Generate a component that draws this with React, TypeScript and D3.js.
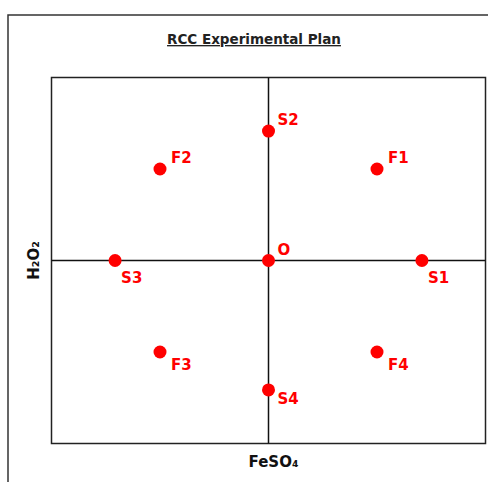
import React from 'react';
import { scaleLinear } from 'd3';

// design points (coded units): factorial at ±1, star points at ±alpha
const pointLabels = ['F1', 'F2', 'F3', 'F4', 'S1', 'S2', 'S3', 'S4', 'O'];
const feso4Level = [1, -1, -1, 1, 1.414, 0, -1.414, 0, 0];
const h2o2Level = [1, 1, -1, -1, 0, 1.414, 0, -1.414, 0];
const labelSide = ['ne', 'ne', 'se', 'se', 's', 'n', 's', 'e', 'n'];

const titleText = 'RCC Experimental Plan';
const xTitle = 'FeSO₄';
const yTitle = 'H₂O₂';
const domain = [-2, 2];

const W = 488;
const H = 482;
const font = '"DejaVu Sans", Verdana, sans-serif';

const offsets: Record<string, [number, number]> = {
  ne: [11, -6],
  n: [9, -6],
  se: [11, 18],
  e: [9, 14],
  s: [6, 22],
};

export default function App() {
  const margin = { top: 77.5, right: 2.5, bottom: 38.5, left: 51.5 };

  const x = scaleLinear().domain(domain).range([margin.left, W - margin.right]);
  const y = scaleLinear().domain(domain).range([H - margin.bottom, margin.top]);

  const x0 = x(0);
  const y0 = y(0);

  return (
    <svg
      width={W}
      height={H}
      style={{ position: 'absolute', left: 0, top: 0, background: '#fff' }}
    >
      {/* outer frame, runs off the right/bottom edge */}
      <rect x={8} y={15} width={W} height={H} fill="none" stroke="#333" strokeWidth={1.5} />

      <text
        x={254}
        y={44}
        textAnchor="middle"
        fontFamily={font}
        fontWeight="bold"
        fontSize={13.5}
        fill="#222"
        textDecoration="underline"
      >
        {titleText}
      </text>

      {/* plot box */}
      <rect
        x={x(domain[0])}
        y={y(domain[1])}
        width={x(domain[1]) - x(domain[0])}
        height={y(domain[0]) - y(domain[1])}
        fill="none"
        stroke="#222"
        strokeWidth={1.5}
      />
      <line x1={x0} x2={x0} y1={y(domain[1])} y2={y(domain[0])} stroke="#111" strokeWidth={1.5} />
      <line x1={x(domain[0])} x2={x(domain[1])} y1={y0} y2={y0} stroke="#111" strokeWidth={1.5} />

      {pointLabels.map((lab, i) => {
        const cx = x(feso4Level[i]);
        const cy = y(h2o2Level[i]);
        const [dx, dy] = offsets[labelSide[i]];
        return (
          <g key={lab}>
            <circle cx={cx} cy={cy} r={6.5} fill="#ff0000" />
            <text
              x={cx + dx}
              y={cy + dy}
              fontFamily={font}
              fontWeight="bold"
              fontSize={15}
              fill="#ff0000"
            >
              {lab}
            </text>
          </g>
        );
      })}

      <text
        x={x0 + 5}
        y={467}
        textAnchor="middle"
        fontFamily={font}
        fontWeight="bold"
        fontSize={15}
        fill="#111"
      >
        {xTitle}
      </text>
      <text
        transform={`translate(39,${y0}) rotate(-90)`}
        textAnchor="middle"
        fontFamily={font}
        fontWeight="bold"
        fontSize={15}
        fill="#111"
      >
        {yTitle}
      </text>
    </svg>
  );
}
